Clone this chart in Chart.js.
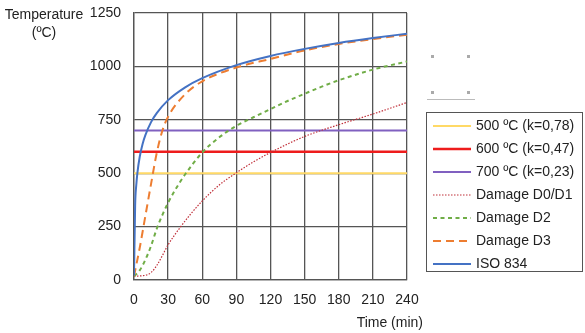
<!DOCTYPE html>
<html>
<head>
<meta charset="utf-8">
<script src="https://cdn.jsdelivr.net/npm/chart.js@4.4.1/dist/chart.umd.min.js"></script>
<style>
  html, body { margin:0; padding:0; background:#fff; }
  #wrap { position:relative; width:585px; height:333px; font-family:"Liberation Sans", Arial, sans-serif; color:#222; }
  canvas { position:absolute; left:0; top:0; }
  .txt { position:absolute; font-size:14px; white-space:nowrap; }
  #ytitle { left:0; top:5px; width:88px; text-align:center; line-height:18px; }
  #xtitle { right:162px; top:314px; }
  #legend { position:absolute; left:426px; top:112px; width:157px; height:160px; border:1px solid #555; box-sizing:border-box; }
  .row { position:absolute; left:5px; height:20px; }
  .row svg { position:absolute; left:0; top:4px; }
  .row span { position:absolute; left:44px; top:1px; font-size:14px; white-space:nowrap; }
  .dot { position:absolute; width:3px; height:3px; background:#aaa; }
  #hline { position:absolute; left:427px; top:99px; width:48px; height:1px; background:#bbb; }
</style>
</head>
<body>
<div id="wrap">
  <canvas id="c" width="585" height="333"></canvas>
  <div class="txt" id="ytitle">Temperature<br>(ºC)</div>
  <div class="txt" id="xtitle">Time (min)</div>
  <div class="dot" style="left:431px;top:55px"></div>
  <div class="dot" style="left:467px;top:55px"></div>
  <div class="dot" style="left:431px;top:91px"></div>
  <div class="dot" style="left:467px;top:91px"></div>
  <div id="hline"></div>
  <div id="legend"></div>
</div>
<script>
// ---- data ----
const xTicks = [0, 30, 60, 90, 120, 150, 180, 210, 240];
const yTicks = [0, 250, 500, 750, 1000, 1250];

const isoTime = [0, 1, 2, 3, 5, 7.5, 10, 15, 20, 30, 45, 60, 90, 120, 150, 180, 210, 240];
const isoTemp = [20, 349, 445, 502, 576, 636, 678, 739, 781, 842, 902, 945, 1006, 1049, 1082, 1110, 1133, 1153];

const d3Time = [0, 5, 10, 15, 20, 25, 30, 45, 60, 90, 120, 150, 180, 210, 240];
const d3Temp = [18, 150, 300, 450, 595, 700, 765, 870, 930, 995, 1035, 1075, 1105, 1128, 1148];

const d2Time = [0, 5, 10, 15, 20, 25, 30, 40, 45, 60, 75, 90, 105, 120, 135, 150, 165, 180, 210, 240];
const d2Temp = [18, 45, 95, 160, 240, 305, 362, 455, 495, 597, 668, 722, 762, 800, 838, 872, 905, 935, 985, 1023];

const d01Time = [0, 10, 15, 20, 25, 30, 40, 50, 60, 75, 90, 105, 120, 150, 180, 210, 240];
const d01Temp = [18, 22, 35, 68, 115, 165, 242, 310, 370, 445, 502, 553, 597, 672, 727, 777, 831];

const limitTime = [0, 240];
const t500 = [500, 500];
const t600 = [600, 600];
const t700 = [700, 700];

const labels = ['500 ºC (k=0,78)', '600 ºC (k=0,47)', '700 ºC (k=0,23)', 'Damage D0/D1', 'Damage D2', 'Damage D3', 'ISO 834'];

// ---- helpers ----
const pts = (xs, ys) => xs.map((x, i) => ({ x: x, y: ys[i] }));

const styles = [
  { color: '#FFD966', width: 2, dash: [] },
  { color: '#EE1C1C', width: 2.5, dash: [] },
  { color: '#8060C0', width: 2, dash: [] },
  { color: '#C0303A', width: 1.2, dash: [1.5, 1.5] },
  { color: '#70AD47', width: 2, dash: [4, 3.5] },
  { color: '#ED7D31', width: 2, dash: [8, 5] },
  { color: '#4472C4', width: 2, dash: [] }
];
const series = [
  pts(limitTime, t500), pts(limitTime, t600), pts(limitTime, t700),
  pts(d01Time, d01Temp), pts(d2Time, d2Temp), pts(d3Time, d3Temp), pts(isoTime, isoTemp)
];

const datasets = series.map((d, i) => ({
  label: labels[i],
  data: d,
  borderColor: styles[i].color,
  borderWidth: styles[i].width,
  borderDash: styles[i].dash,
  pointRadius: 0,
  fill: false,
  cubicInterpolationMode: 'monotone',
  order: 7 - i
}));

const gridColor = '#555';
const tickFont = { family: '"Liberation Sans", Arial, sans-serif', size: 14 };

new Chart(document.getElementById('c'), {
  type: 'line',
  data: { datasets: datasets },
  options: {
    responsive: false,
    animation: false,
    layout: { padding: { left: 0, top: 13, right: 178, bottom: 0 } },
    plugins: { legend: { display: false }, tooltip: { enabled: false } },
    scales: {
      x: {
        type: 'linear', min: 0, max: 240,
        afterBuildTicks: s => { s.ticks = xTicks.map(v => ({ value: v })); },
        afterFit: s => { s.height = 53; s.paddingLeft = 0; s.paddingRight = 0; },
        grid: { color: gridColor, lineWidth: 1.3, drawTicks: false },
        border: { color: gridColor, width: 1.3 },
        ticks: { font: tickFont, color: '#222', padding: 12, maxRotation: 0, callback: v => String(v) }
      },
      y: {
        type: 'linear', min: 0, max: 1250,
        afterBuildTicks: s => { s.ticks = yTicks.map(v => ({ value: v })); },
        afterFit: s => { s.width = 134; s.paddingTop = 0; s.paddingBottom = 0; },
        grid: { color: gridColor, lineWidth: 1.3, drawTicks: false },
        border: { color: gridColor, width: 1.3 },
        ticks: { font: tickFont, color: '#222', padding: 13, callback: v => String(v) }
      }
    }
  }
});

// ---- HTML legend (real text) ----
const lg = document.getElementById('legend');
labels.forEach((lab, i) => {
  const r = document.createElement('div');
  r.className = 'row';
  r.style.top = (3 + i * 23.05) + 'px';
  const st = styles[i];
  r.innerHTML = '<svg width="40" height="12"><line x1="1" y1="6" x2="39" y2="6" stroke="' + st.color +
    '" stroke-width="' + st.width + '" stroke-dasharray="' + (st.dash.length ? st.dash.join(',') : 'none') + '"/></svg>' +
    '<span>' + lab + '</span>';
  lg.appendChild(r);
});
</script>
</body>
</html>
